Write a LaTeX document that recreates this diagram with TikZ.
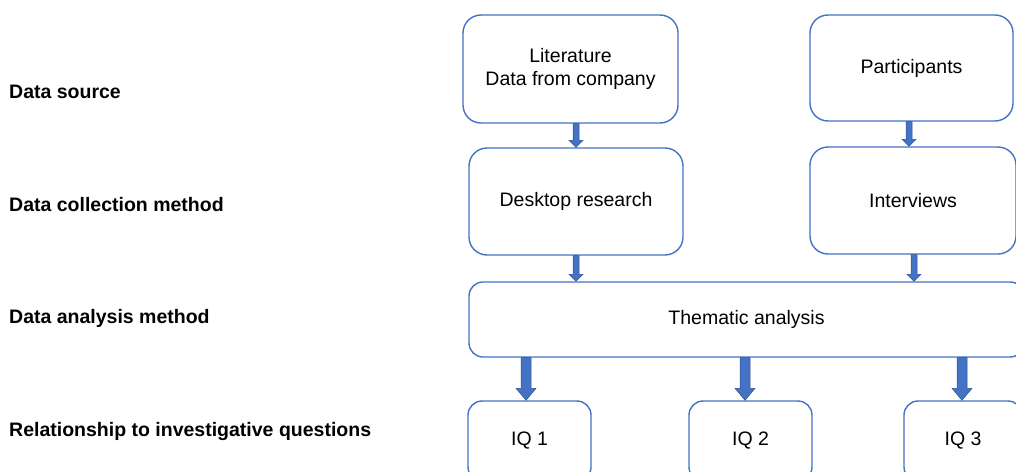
\documentclass[tikz,border=0pt]{standalone}
\usepackage{fontspec}
\setmainfont{Liberation Sans}
\usetikzlibrary{calc}
\definecolor{boxblue}{RGB}{68,114,196}
\definecolor{arrdark}{RGB}{47,82,143}
\tikzset{
  box/.style={draw=boxblue, line width=1.4pt, fill=white, rounded corners=#1, inner sep=0pt, align=center, font=\fontsize{19.5}{22.5}\selectfont},
  box/.default=18pt,
  lbl/.style={anchor=west, inner sep=0pt, font=\bfseries\fontsize{19.5}{22}\selectfont},
  blockarr/.style={fill=boxblue, draw=arrdark, line width=0.5pt}
}
% #1 from node anchor, #2 to node anchor, #3 x shift, #4 shaft half, #5 head half, #6 head length
\newcommand{\blockarrow}[6]{%
  \path let \p1=($(#1)+(#3,0)$), \p2=(#2) in [blockarr]
    (\x1-#4,\y1) -- (\x1+#4,\y1) -- (\x1+#4,\y2+#6) -- (\x1+#5,\y2+#6)
    -- (\x1,\y2) -- (\x1-#5,\y2+#6) -- (\x1-#4,\y2+#6) -- cycle;}
\begin{document}
\begin{tikzpicture}[x=1pt,y=-1pt]
\useasboundingbox (0,0) rectangle (1016,471);
\clip (0,0) rectangle (1016,471);
% left labels
\node[lbl] (l1) at (9,92) {Data source};
\node[lbl] (l2) at (9,205) {Data collection method};
\node[lbl] (l3) at (9,318) {Data analysis method};
\node[lbl] (l4) at (9,431) {Relationship to investigative questions};
% boxes
\node[box, minimum width=215pt, minimum height=108pt] (lit) at (570.5,69) {Literature\\Data from company};
\node[box, minimum width=203pt, minimum height=106pt] (par) at (911.5,68) {Participants};
\node[box, minimum width=214pt, minimum height=107pt] (desk) at (576,201.5) {Desktop research};
\node[box, minimum width=206pt, minimum height=107pt] (int) at (913,200.5) {Interviews};
\node[box=14pt, minimum width=555pt, minimum height=75pt] (them) at (746.5,319.5) {Thematic analysis};
\node[box=14pt, minimum width=123pt, minimum height=80pt] (iq1) at (529.5,441) {IQ 1};
\node[box=14pt, minimum width=123pt, minimum height=80pt] (iq2) at (750.5,441) {IQ 2};
\node[box=14pt, minimum width=118pt, minimum height=80pt] (iq3) at (963,441) {IQ 3};
% arrows
\blockarrow{lit.south -| desk.north}{desk.north}{0pt}{3pt}{7pt}{7pt}
\blockarrow{par.south -| int.north}{int.north}{-4pt}{3pt}{7pt}{7pt}
\blockarrow{desk.south}{them.north -| desk.south}{0pt}{3pt}{7pt}{7pt}
\blockarrow{int.south}{them.north -| int.south}{1pt}{3pt}{7pt}{7pt}
\blockarrow{them.south -| iq1.north}{iq1.north}{-3.5pt}{5pt}{10pt}{12pt}
\blockarrow{them.south -| iq2.north}{iq2.north}{-5.5pt}{5pt}{10pt}{12pt}
\blockarrow{them.south -| iq3.north}{iq3.north}{-1pt}{5pt}{10pt}{12pt}
\end{tikzpicture}
\end{document}
